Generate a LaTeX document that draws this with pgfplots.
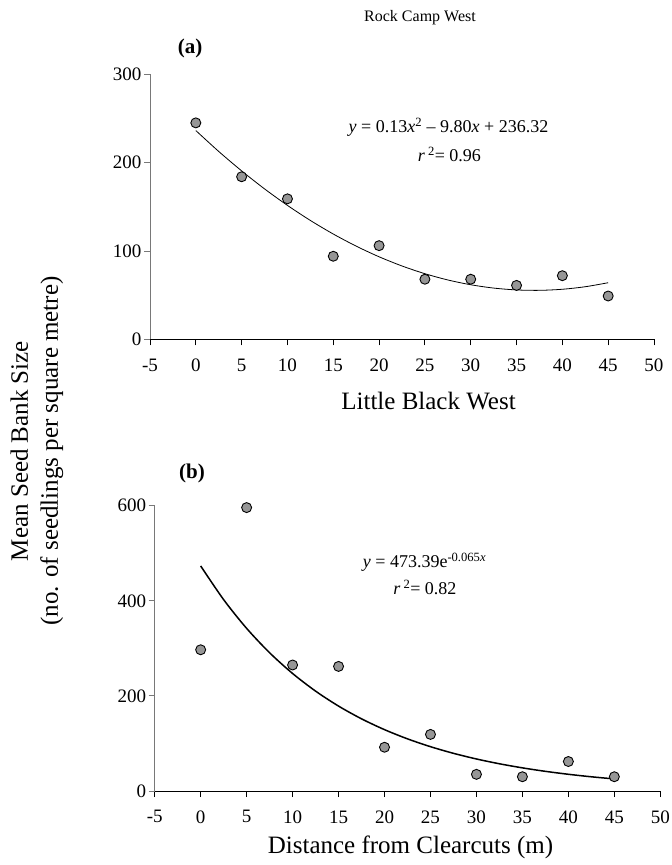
\documentclass[border=0pt]{standalone}
\usepackage{fontspec}
\setmainfont{Liberation Serif}
\usepackage{pgfplots}
\pgfplotsset{compat=1.18}

\definecolor{markgray}{RGB}{150,150,150}
\definecolor{axgray}{RGB}{120,120,120}

\pgfplotsset{
  panel/.style={
    scale only axis,
    axis lines=left,
    axis line style={-},
    y axis line style={axgray, line width=0.9pt},
    x axis line style={black, line width=0.9pt},
    xmin=-5, xmax=50, ymin=0,
    xtick={-5,0,...,50},
    tick align=outside,
    major tick length=6pt,
    ytick style={axgray, line width=0.9pt},
    xtick style={black, line width=0.9pt},
    tick label style={font=\fontsize{19}{19}\selectfont},
    xticklabel style={yshift=-10pt},
    yticklabel style={xshift=1pt},
    /pgf/number format/assume math mode=true,
    clip=false,
  },
  pts/.style={only marks, mark=*, mark size=5pt,
    mark options={fill=markgray, draw=black, line width=0.9pt}},
}

\begin{document}
\begin{tikzpicture}
\useasboundingbox (0,0) rectangle (672pt,865pt);

% (a) Little Black West
\begin{axis}[panel, at={(150pt,525.7pt)}, anchor=south west,
  width=504pt, height=265pt, ymax=300, ytick={0,100,200,300}]
\addplot[pts] coordinates {(0,245) (5,184) (10,159) (15,94) (20,106)
  (25,68) (30,68) (35,61) (40,72) (45,49)};
% fitted quadratic
\addplot[black, line width=0.8pt, smooth, no marks] coordinates {
  (0,236.32) (2.5,212.65) (5,190.64) (7.5,170.28) (10,151.59)
  (12.5,134.55) (15,119.18) (17.5,105.46) (20,93.40) (22.5,83.00)
  (25,74.26) (27.5,67.17) (30,61.75) (32.5,57.99) (35,55.88)
  (37.5,55.43) (40,56.64) (42.5,59.51) (45,64.04)};
\end{axis}

% (b) Distance from clearcuts
\begin{axis}[panel, at={(154.7pt,74pt)}, anchor=south west,
  width=505.6pt, height=285.3pt, ymax=600, ytick={0,200,400,600}]
\addplot[pts] coordinates {(0,297) (5,596) (10,265) (15,262) (20,92)
  (25,119) (30,35) (35,30) (40,62) (45,30)};
% fitted exponential
\addplot[black, line width=1.5pt, smooth, no marks] coordinates {
  (0,473.39) (2.5,402.39) (5,342.04) (7.5,290.73) (10,247.13)
  (12.5,210.07) (15,178.56) (17.5,151.77) (20,129.01) (22.5,109.66)
  (25,93.21) (27.5,79.23) (30,67.35) (32.5,57.25) (35,48.66)
  (37.5,41.36) (40,35.16) (42.5,29.88) (45,25.40)};
\end{axis}

% titles and labels
\node[anchor=base, font=\fontsize{16}{16}\selectfont] at (420pt,843pt) {Rock Camp West};
\node[anchor=base, font=\fontsize{21}{21}\selectfont\bfseries] at (190pt,811pt) {(a)};
\node[anchor=base, font=\fontsize{21}{21}\selectfont\bfseries] at (192pt,386pt) {(b)};

\node[anchor=base, font=\fontsize{18}{18}\selectfont] at (448.5pt,732pt)
  {\textit{y} = 0.13\textit{x}\textsuperscript{2} -- 9.80\textit{x} + 236.32};
\node[anchor=base, font=\fontsize{18}{18}\selectfont] at (449.5pt,703pt)
  {\textit{r}\,\textsuperscript{2}= 0.96};
\node[anchor=base, font=\fontsize{18}{18}\selectfont] at (424.5pt,297pt)
  {\textit{y} = 473.39e\textsuperscript{-0.065\textit{x}}};
\node[anchor=base, font=\fontsize{18}{18}\selectfont] at (425pt,270pt)
  {\textit{r}\,\textsuperscript{2}= 0.82};

\node[anchor=base, font=\fontsize{25}{25}\selectfont] at (428.5pt,455pt) {Little Black West};
\node[anchor=base, font=\fontsize{25}{25}\selectfont] at (410.5pt,11.5pt) {Distance from Clearcuts (m)};

\node[rotate=90, align=center, font=\fontsize{25}{30}\selectfont] at (37pt,414pt)
  {Mean Seed Bank Size\\(no. of seedlings per square metre)};
\end{tikzpicture}
\end{document}
